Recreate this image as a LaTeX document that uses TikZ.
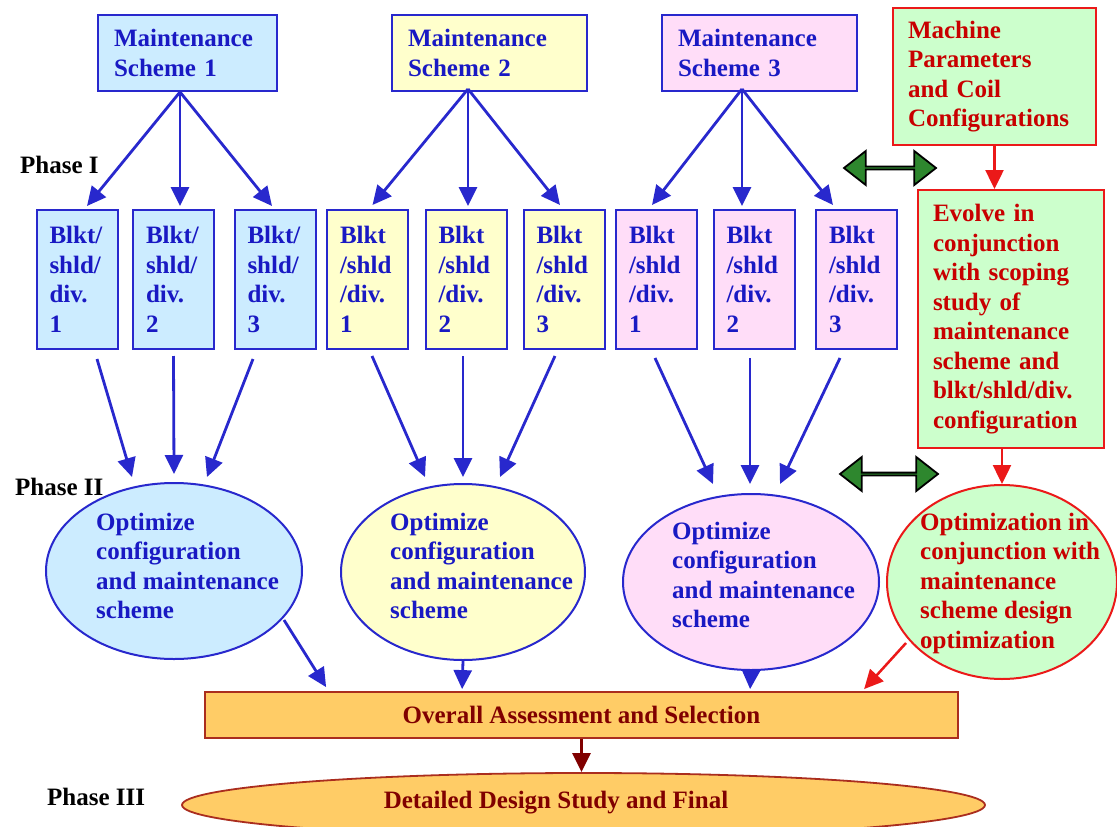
\documentclass[tikz,border=0pt]{standalone}
\usepackage{fontspec}
\setmainfont{Liberation Serif}
\usetikzlibrary{arrows.meta,shapes.geometric,shapes.arrows,calc}
\definecolor{tblue}{RGB}{25,25,195}
\definecolor{bblue}{RGB}{40,40,205}
\definecolor{fblue}{RGB}{204,236,255}
\definecolor{fyellow}{RGB}{255,255,204}
\definecolor{fpink}{RGB}{255,221,248}
\definecolor{fgreen}{RGB}{204,255,204}
\definecolor{rline}{RGB}{235,25,25}
\definecolor{rtext}{RGB}{200,0,0}
\definecolor{forange}{RGB}{255,204,102}
\definecolor{obord}{RGB}{170,45,30}
\definecolor{otext}{RGB}{128,0,0}
\definecolor{dgreen}{RGB}{46,135,46}
\tikzset{
  txt/.style={font=\fontsize{25}{29.5}\selectfont\bfseries},
  schemebox/.style={txt, rectangle, draw=bblue, line width=2pt, text=tblue, align=left,
    inner xsep=16pt, inner ysep=0pt, minimum height=76pt},
  blktbox/.style={txt, rectangle, draw=bblue, line width=2pt, text=tblue, align=left,
    inner xsep=13pt, inner ysep=0pt, text width=55pt, minimum height=139pt},
  redbox/.style={txt, rectangle, draw=rline, line width=2pt, fill=fgreen, text=rtext, align=left,
    inner xsep=15pt, inner ysep=0pt},
  ell/.style={ellipse, draw=bblue, line width=2pt, inner sep=0pt},
  elltext/.style={txt, text=tblue, align=left, anchor=west, inner sep=0pt},
  phase/.style={txt, text=black, anchor=west, inner sep=0pt},
  barr/.style={draw=bblue, line width=2.8pt, -{Triangle[length=19pt,width=18pt]}},
  rarr/.style={draw=rline, line width=2.5pt, -{Triangle[length=19pt,width=18pt]}},
  darr/.style={draw=otext, line width=2.8pt, -{Triangle[length=19pt,width=18pt]}},
  dblarrow/.style={double arrow, draw=black, line width=1.8pt, fill=dgreen, inner sep=0pt,
    minimum width=34pt, double arrow head extend=10pt, double arrow tip angle=76},
}
\begin{document}
\begin{tikzpicture}[x=1pt,y=-1pt]
\useasboundingbox (0,0) rectangle (1117,827);
\clip (0,0) rectangle (1117,827);

% Maintenance schemes
\node[schemebox, fill=fblue, text width=147pt] (s1) at (187.5,53) {Maintenance\\Scheme 1};
\node[schemebox, fill=fyellow, text width=163pt] (s2) at (489.5,53) {Maintenance\\Scheme 2};
\node[schemebox, fill=fpink, text width=163pt] (s3) at (759.5,53) {Maintenance\\Scheme 3};

% Machine parameters and evolve boxes
\node[redbox, text width=173pt, minimum height=137pt] (m) at (994.5,76.5) {Machine\\Parameters\\and Coil\\Configurations};
\node[redbox, text width=156pt, minimum height=258pt] (ev) at (1011,319) {Evolve in\\conjunction\\with scoping\\study of\\maintenance\\scheme and\\blkt/shld/div.\\configuration};

% Blkt boxes
\node[blktbox, fill=fblue] (b1) at (77,279.5) {Blkt/\\shld/\\div.\\1};
\node[blktbox, fill=fblue] (b2) at (173.5,279.5) {Blkt/\\shld/\\div.\\2};
\node[blktbox, fill=fblue] (b3) at (275,279.5) {Blkt/\\shld/\\div.\\3};
\node[blktbox, fill=fyellow] (c1) at (367.5,279.5) {Blkt\\/shld\\/div.\\1};
\node[blktbox, fill=fyellow] (c2) at (466,279.5) {Blkt\\/shld\\/div.\\2};
\node[blktbox, fill=fyellow] (c3) at (564,279.5) {Blkt\\/shld\\/div.\\3};
\node[blktbox, fill=fpink] (p1) at (656.5,279.5) {Blkt\\/shld\\/div.\\1};
\node[blktbox, fill=fpink] (p2) at (754,279.5) {Blkt\\/shld\\/div.\\2};
\node[blktbox, fill=fpink] (p3) at (856.5,279.5) {Blkt\\/shld\\/div.\\3};

% Phase labels
\node[phase] (ph1) at (20,165) {Phase I};
\node[phase] (ph2) at (15,487) {Phase II};
\node[phase] (ph3) at (47,797) {Phase III};

% Double arrows
\node[dblarrow, minimum height=92pt] (da1) at (890,168) {};
\node[dblarrow, minimum height=98pt] (da2) at (889,474) {};

% Ellipses
\node[ell, fill=fblue, minimum width=256pt, minimum height=176pt] (e1) at (174,571) {};
\node[ell, fill=fyellow, minimum width=244pt, minimum height=176pt] (e2) at (463,572) {};
\node[ell, fill=fpink, minimum width=256pt, minimum height=176pt] (e3) at (751,582) {};
\node[ell, draw=rline, fill=fgreen, minimum width=230pt, minimum height=194pt] (e4) at (1002,582) {};
\node[elltext] (t1) at (96,566) {Optimize\\configuration\\and maintenance\\scheme};
\node[elltext] (t2) at (390,566) {Optimize\\configuration\\and maintenance\\scheme};
\node[elltext] (t3) at (672,575) {Optimize\\configuration\\and maintenance\\scheme};
\node[elltext, text=rtext] (t4) at (920,583) {Optimization in\\conjunction with\\maintenance\\scheme design\\optimization};

% Overall assessment and final
\node[txt, rectangle, draw=obord, line width=1.8pt, fill=forange, text=otext,
  minimum width=753pt, minimum height=46pt, inner sep=0pt] (ov) at (581.5,715) {Overall Assessment and Selection};
\node[ellipse, draw=obord, line width=1.8pt, fill=forange, minimum width=803pt, minimum height=64pt, inner sep=0pt] (det) at (583.5,805) {};
\node[txt, text=otext, inner sep=0pt] (dett) at (556,803) {Detailed Design Study and Final};

% Scheme -> blkt arrows
\draw[barr] ($(s1.south)+(-7.5,0)$) -- ($(b1.north)+(10,-3)$);
\draw[barr] ($(s1.south)+(-7.5,0)$) -- ($(b2.north)+(6.5,-3)$);
\draw[barr] ($(s1.south)+(-7.5,0)$) -- ($(b3.north)+(-3,-3)$);
\draw[barr] ($(s2.south)+(-21.5,-3)$) -- ($(c1.north)+(5,-4)$);
\draw[barr] ($(s2.south)+(-21.5,-3)$) -- ($(c2.north)+(2,-3)$);
\draw[barr] ($(s2.south)+(-21.5,-3)$) -- ($(c3.north)+(-4,-4)$);
\draw[barr] ($(s3.south)+(-17.5,-3)$) -- ($(p1.north)+(-4.5,-4)$);
\draw[barr] ($(s3.south)+(-17.5,-3)$) -- ($(p2.north)+(-12,-3)$);
\draw[barr] ($(s3.south)+(-17.5,-3)$) -- ($(p3.north)+(-23.5,-4)$);

% Blkt -> ellipse arrows
\draw[barr] ($(b1.south)+(20,9)$) -- ($(e1.north)+(-42,-5)$);
\draw[barr] ($(b2.south)+(0,6)$) -- ($(e1.north)+(0,-8)$);
\draw[barr] ($(b3.south)+(-22,9)$) -- ($(e1.north)+(33,-5)$);
\draw[barr] ($(c1.south)+(4.5,6)$) -- ($(e2.north)+(-38,-6)$);
\draw[barr] ($(c2.south)+(-3,6)$) -- ($(e2.north)+(0,-6)$);
\draw[barr] ($(c3.south)+(-9,6)$) -- ($(e2.north)+(37,-6)$);
\draw[barr] ($(p1.south)+(-1.5,8)$) -- ($(e3.north)+(-38,-9)$);
\draw[barr] ($(p2.south)+(-4,8)$) -- ($(e3.north)+(-1,-9)$);
\draw[barr] ($(p3.south)+(-16.5,8)$) -- ($(e3.north)+(29,-9)$);

% Ellipses -> overall
\draw[barr] ($(e1.center)+(110,49)$) -- ($(ov.north west)+(122,-4)$);
\draw[barr] (e2.south) -- ($(ov.north west)+(258,-2)$);
\draw[barr] (e3.south) -- ($(ov.north west)+(546,-2)$);
\draw[rarr] ($(e4.center)+(-96,61)$) -- ($(ov.north west)+(660,-2)$);

% Red flow
\draw[rarr] (m.south) -- (m.south |- ev.north);
\draw[rarr] ($(ev.south)+(-9,0)$) -- (e4.north);

% Overall -> final
\draw[darr] (ov.south) -- (ov.south |- det.north);
\end{tikzpicture}
\end{document}
